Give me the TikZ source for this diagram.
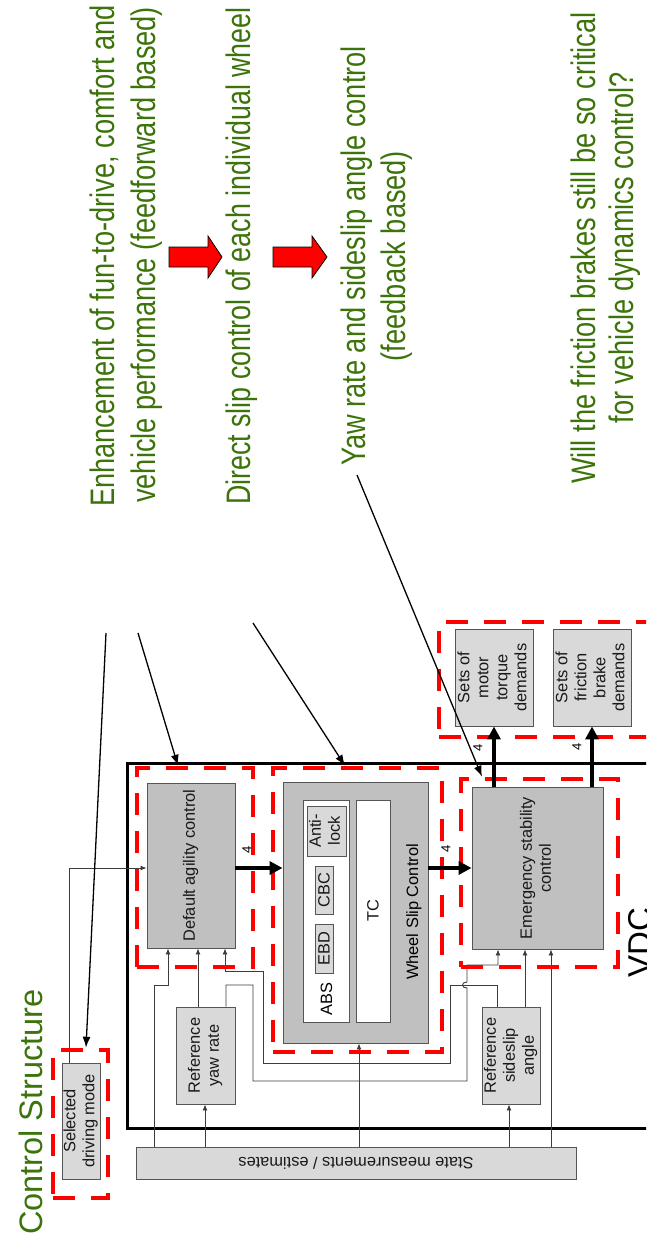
\documentclass[tikz,border=0pt]{standalone}
\usepackage{fontspec}
\setmainfont{Liberation Sans}
\newfontfamily\annfont[FakeStretch=0.8]{Liberation Sans}
\newfontfamily\annfontb[FakeStretch=0.788]{Liberation Sans}
\usetikzlibrary{calc,arrows.meta}
\definecolor{anngreen}{RGB}{60,115,10}
\definecolor{dgray}{RGB}{192,192,192}
\definecolor{lgray}{RGB}{217,217,217}
\definecolor{edgegray}{RGB}{85,85,85}
\definecolor{wiregray}{RGB}{60,60,60}
\newcommand{\rtx}[1]{\rotatebox{90}{\begin{tabular}{@{}c@{}}#1\end{tabular}}}
\tikzset{
  box/.style={draw=edgegray, line width=0.9pt, fill=dgray, inner sep=0pt, text=black!90},
  lbox/.style={box, fill=lgray},
  wbox/.style={box, fill=white},
  rbox/.style={draw=red, line width=4.5pt, dash pattern=on 22pt off 16pt, inner sep=0pt},
  conn/.style={draw=wiregray, line width=0.9pt, -{Latex[length=6pt,width=5pt]}},
  bigarrow/.style={draw=black, line width=4pt, -{Triangle[length=13pt,width=13pt]}},
  lab/.style={rotate=90, inner sep=0pt, font=\fontsize{13}{15}\selectfont},
  ann/.style={text=anngreen, font=\annfont\fontsize{34}{40}\selectfont, rotate=90, inner sep=0pt},
  annarrow/.style={draw=black, line width=1.3pt, -{Latex[length=11pt,width=8pt]}},
  rtext/.style={rotate=90, inner sep=0pt},
  blockarrow/.style={fill=red, draw=black, line width=0.8pt, line join=miter}
}
\begin{document}
\begin{tikzpicture}[x=1pt, y=-1pt, font=\fontsize{16.4}{19}\selectfont]
\useasboundingbox (0,0) rectangle (646,1244);
\begin{scope}
\clip (0,0) rectangle (646,1244);

% ---------- annotation texts ----------
\node[ann, anchor=base west] (t1) at (114,507) {Enhancement of fun-to-drive, comfort and};
\node[ann, anchor=base west] (t2) at (155,503) {vehicle performance (feedforward based)};
\node[ann, anchor=base west, font=\annfontb\fontsize{34}{40}\selectfont] (t3) at (250,505) {Direct slip control of each individual wheel};
\node[ann, anchor=base] (t4) at (365,256) {Yaw rate and sideslip angle control};
\node[ann, anchor=base] (t5) at (405,256) {(feedback based)};
\node[ann, anchor=base] (t6) at (595,248) {Will the friction brakes still be so critical};
\node[ann, anchor=base] (t7) at (633,248) {for vehicle dynamics control?};
\node[rtext, anchor=base west, text=anngreen, font=\fontsize{32.5}{38}\selectfont] (title) at (42,1235) {Control Structure};

% red block arrows
\draw[blockarrow] (169,247) -- (208,247) -- (208,236) -- (222,257) -- (208,278) -- (208,267) -- (169,267) -- cycle;
\draw[blockarrow] (273,247) -- (312,247) -- (312,236) -- (327,257) -- (312,278) -- (312,267) -- (273,267) -- cycle;

% ---------- VDC frame ----------
\draw[line width=3pt] (127,763) rectangle (720,1128);
\node[rtext, anchor=base west, font=\fontsize{33}{40}\selectfont] (vdct) at (651,978) {VDC};

% ---------- boxes ----------
\node[box, minimum width=88pt, minimum height=165pt] (dac) at (191,865.5) {\rtx{Default agility control}};
\node[box, minimum width=145pt, minimum height=261pt] (wsc) at (355.5,912.5) {};
\node[wbox, minimum width=46pt, minimum height=222pt] (absb) at (326,911) {};
\node[lbox, minimum width=39pt, minimum height=50pt] (antil) at (326.5,831) {\rtx{Anti-\\lock}};
\node[lbox, minimum width=18pt, minimum height=48pt] (cbc) at (324,890) {\rotatebox{90}{CBC}};
\node[lbox, minimum width=18pt, minimum height=49pt] (ebd) at (324,948.5) {\rotatebox{90}{EBD}};
\node[rtext, anchor=base] (abst) at (332,999) {ABS};
\node[wbox, minimum width=34pt, minimum height=222pt] (tc) at (373,911) {\rotatebox{90}{TC}};
\node[rtext, anchor=base] (wsct) at (418,912) {Wheel Slip Control};
\node[box, minimum width=131pt, minimum height=162pt] (esc) at (537.5,868) {\rtx{Emergency stability\\control}};
\node[lbox, minimum width=78pt, minimum height=97pt] (smt) at (494,677.5) {\rtx{Sets of\\motor\\torque\\demands}};
\node[lbox, minimum width=78pt, minimum height=97pt] (sfb) at (592,677.5) {\rtx{Sets of\\friction\\brake\\demands}};
\node[lbox, minimum width=59pt, minimum height=97pt] (ryr) at (205.5,1055.5) {\rtx{Reference\\yaw rate}};
\node[lbox, minimum width=58pt, minimum height=97pt] (rsa) at (511,1055.5) {\rtx{Reference\\sideslip\\angle}};
\node[lbox, minimum width=38pt, minimum height=116pt] (sdm) at (81,1121) {\rtx{Selected\\driving mode}};
\node[lbox, minimum width=440pt, minimum height=32pt] (smb) at (356,1163) {\rotatebox{180}{State measurements / estimates}};

% ---------- thin connectors ----------
\draw[conn] ($(sdm.north)+(-12,0)$) |- ($(dac.west)+(0,2.5)$);
\draw[conn] ($(smb.north)+(-202,0)$) -- ++(0,-161) -- ++(14,0) -- ($(dac.south)+(-23,0)$);
\draw[conn] ($(ryr.north)+(-7.5,0)$) -- ($(dac.south)+(7,0)$);
\draw[conn] ($(ryr.north)+(20.5,0)$) -- (226,985) -- (253,985) -- (253,1081) -- (467,1081) -- (467,988)
   .. controls (461,988) and (461,982) .. (467,982) -- (467,965) -- (498,965) -- ($(esc.south)+(-39.5,0)$);
\draw[conn] ($(rsa.north)+(-14,0)$) -- (497,985) -- (450,985) -- (450,1063) -- (263,1063) -- (263,971) -- (225,971) -- ($(dac.south)+(34,0)$);
\draw[conn] ($(rsa.north)+(14,0)$) -- ($(esc.south)+(-12.5,0)$);
\draw[conn] ($(smb.north)+(195,0)$) -- ($(esc.south)+(13.5,0)$);
\draw[conn] ($(smb.north)+(153,0)$) -- ($(rsa.south)+(-2,0)$);
\draw[conn] ($(smb.north)+(3,0)$) -- ($(wsc.south)+(3.5,0)$);
\draw[conn] ($(smb.north)+(-151,0)$) -- ($(ryr.south)+(-0.5,0)$);

% ---------- red dashed groups ----------
\node[rbox, minimum width=116pt, minimum height=199pt] (rdac) at (195,867.5) {};
\node[rbox, minimum width=169pt, minimum height=284pt] (rwsc) at (357.5,910) {};
\node[rbox, minimum width=157pt, minimum height=188pt] (resc) at (539.5,873) {};
\node[rbox, minimum width=261pt, minimum height=115pt] (rout) at (569.5,679.5) {};
\node[rbox, minimum width=55pt, minimum height=148pt] (rsdm) at (80.5,1124) {};

% ---------- thick arrows ----------
\draw[bigarrow] ($(dac.east)+(0,2.5)$) -- ($(wsc.west)+(0,-44.5)$);
\draw[bigarrow] ($(wsc.east)+(0,-44.5)$) -- (esc.west);
\draw[bigarrow] ($(esc.north)+(-43.5,0)$) -- (smt.south);
\draw[bigarrow] ($(esc.north)+(54.5,0)$) -- (sfb.south);
\node[lab] (l1) at (247,850) {4};
\node[lab] (l2) at (446,849) {4};
\node[lab] (l3) at (478,747.5) {4};
\node[lab] (l4) at (577,747) {4};

% ---------- annotation arrows ----------
\coordinate (s1) at (106,633);
\coordinate (s2) at (138,633);
\coordinate (s3) at (253,623);
\coordinate (s4) at (357,475);
\draw[annarrow] (s1) -- ($(rsdm.north)+(5.5,0)$);
\draw[annarrow] (s2) -- ($(rdac.north)+(-17,0)$);
\draw[annarrow] (s3) -- ($(rwsc.north)+(-12.5,0)$);
\draw[annarrow] (s4) -- ($(resc.north)+(-57.5,0)$);
\end{scope}
\end{tikzpicture}
\end{document}
